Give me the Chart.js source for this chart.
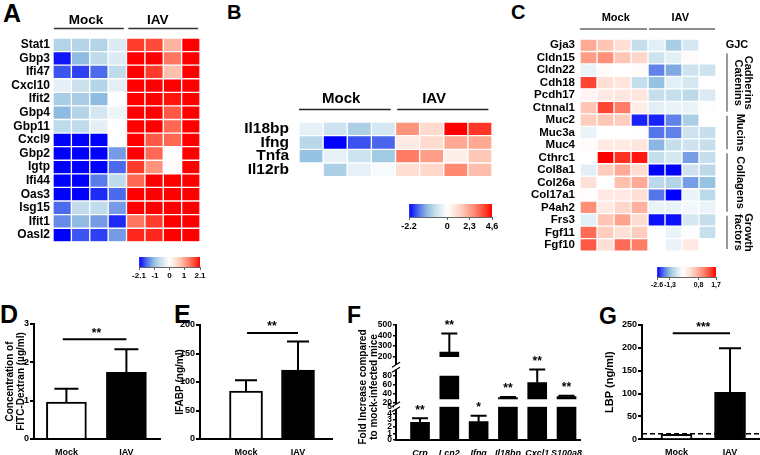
<!DOCTYPE html>
<html>
<head>
<meta charset="utf-8">
<script src="https://cdn.jsdelivr.net/npm/chart.js@4.4.0/dist/chart.umd.min.js"></script>
<style>
  body { margin: 0; background: #fff; width: 760px; height: 455px; position: relative; overflow: hidden;
         font-family: Arial, "Liberation Sans", sans-serif; }
  canvas { position: absolute; }
  .tag { position: absolute; font-weight: bold; line-height: 1; color: #000; }
</style>
</head>
<body>
<div class="tag" style="left:3px;top:1px;font-size:25px">A</div>
<div class="tag" style="left:227px;top:2px;font-size:20px">B</div>
<div class="tag" style="left:511px;top:2px;font-size:20px">C</div>
<div class="tag" style="left:0px;top:302px;font-size:25px">D</div>
<div class="tag" style="left:174px;top:302px;font-size:25px">E</div>
<div class="tag" style="left:347px;top:304px;font-size:23px">F</div>
<div class="tag" style="left:599px;top:305px;font-size:23px">G</div>

<canvas id="heatA" width="205" height="252" style="left:0;top:0"></canvas>
<canvas id="barA" width="88" height="32" style="left:127px;top:252px"></canvas>
<canvas id="heatB" width="306" height="136" style="left:190px;top:60px"></canvas>
<canvas id="barB" width="110" height="36" style="left:397px;top:199px"></canvas>
<canvas id="heatC" width="240" height="263" style="left:520px;top:0"></canvas>
<canvas id="barC" width="86" height="30" style="left:645px;top:262px"></canvas>
<canvas id="chartD" width="165" height="155" style="left:0;top:300px"></canvas>
<canvas id="chartE" width="170" height="155" style="left:165px;top:300px"></canvas>
<canvas id="chartF" width="250" height="155" style="left:335px;top:300px"></canvas>
<canvas id="chartG" width="170" height="155" style="left:590px;top:300px"></canvas>

<script>
const FONT = 'Arial, "Liberation Sans", sans-serif';
Chart.defaults.font.family = FONT;
Chart.defaults.color = '#000';

// ---------- data ----------
const groups = ['Mock', 'IAV'];

const genesA = ['Stat1', 'Gbp3', 'Ifi47', 'Cxcl10', 'Ifit2', 'Gbp4', 'Gbp11', 'Cxcl9',
                'Gbp2', 'Igtp', 'Ifi44', 'Oas3', 'Isg15', 'Ifit1', 'Oasl2'];
// 4 mock + 4 IAV mice per row
const heatA = [
  [-0.8, -0.8, -0.8, -0.4,  1.8, 1.7, 0.9, 2.1],
  [-2.0, -1.1, -0.7, -0.4,  2.1, 2.1, 1.4, 2.1],
  [-1.7, -1.8, -1.6, -0.7,  2.1, 1.8, 0.8, 2.1],
  [-0.3, -0.6, -0.8, -0.3,  2.1, 2.1, 2.1, 2.1],
  [-0.9, -0.9, -1.1,  0,    2.1, 2.1, 2.0, 2.1],
  [-1.1, -0.8, -0.5, -0.2,  2.1, 2.1, 1.6, 2.1],
  [-0.7, -0.7, -0.3,  0,    2.1, 2.1, 1.5, 2.1],
  [-2.1, -2.1, -2.1,  0,    2.1, 1.6, 1.5, 2.1],
  [-2.1, -2.1, -2.1, -1.3,  2.1, 1.5, 0,   2.1],
  [-2.1, -2.1, -2.1, -1.6,  1.8, 1.2, 0.05, 2.1],
  [-2.1, -2.1, -1.5, -0.7,  1.5, 2.1, 2.1, 2.1],
  [-2.1, -2.1, -1.9, -1.6,  2.1, 2.1, 2.1, 2.1],
  [-1.6, -0.7, -0.7, -1.3,  2.1, 2.1, 2.1, 2.1],
  [-1.4, -1.1, -1.3, -1.9,  1.4, 1.8, 2.1, 2.1],
  [-2.1, -1.7, -1.8, -1.3,  1.9, 1.9, 2.1, 2.1]
];
const rangeA = [-2.1, 2.1];
const cbTicksA = [-2.1, -1, 0, 1, 2.1];
const cbLabelsA = ['-2.1', '-1', '0', '1', '2.1'];

const genesB = ['Il18bp', 'Ifng', 'Tnfa', 'Il12rb'];
const heatB = [
  [-0.3, -0.6, -0.9, -0.5,  2.6, 1.1, 4.6, 4.0],
  [-0.8, -2.2, -1.8, -1.7,  0.6, 1.1, 2.2, 2.2],
  [-1.1, -0.3, -0.6, -1.0,  3.0, 2.4, 0.5, 1.6],
  [ 0,   -0.9, -0.3, -0.1,  1.0, 1.2, 2.8, 1.8]
];
const rangeB = [-2.2, 4.6];
const cbTicksB = [-2.2, 0, 2.3, 4.6];
const cbLabelsB = ['-2.2', '0', '2,3', '4,6'];

const genesC = ['Gja3', 'Cldn15', 'Cldn22', 'Cdh18', 'Pcdh17', 'Ctnnal1', 'Muc2', 'Muc3a', 'Muc4',
                'Cthrc1', 'Col8a1', 'Col26a', 'Col17a1', 'P4ah2', 'Frs3', 'Fgf11', 'Fgf10'];
const heatC = [
  [ 0.8,  0.6,  0.35, -0.8,  -0.4, -1.1, -0.6,  0],
  [ 0.9,  1.0,  0.6,  0.45,  -0.7, -0.4,  0.04, 0],
  [-0.3,  0.05, 0,    0.04,  -1.8, -1.5, -0.7, -0.7],
  [ 1.4,  0.35, 0.3, -0.8,   -1.3, -0.4, -0.6,  0],
  [ 0.12, 0.25, 0.28, 0.3,   -0.8, -0.8, -0.9, -0.5],
  [ 0.6,  1.4,  1.1,  0.2,   -0.4, -0.3, -0.3, -0.05],
  [ 0.55, 0.6,  0.55, -2.4,  -2.4, -1.8, -1.1,  0],
  [-0.3,  0,    0,    0.02,  -1.9, -1.8, -0.7, -0.8],
  [ 0.04, 0.25, 0.25, 0.3,   -1.4, -0.8, -0.7, -0.8],
  [ 0,    1.7,  1.5,  1.6,   -0.8, -0.6, -1.6, -0.8],
  [-0.4,  0.55, 0.8,  0.4,   -2.6, -2.6, -0.7, -0.9],
  [ 0.35, 0,    0.65, 0.8,   -0.9, -1.0, -1.6, -1.3],
  [ 0.03, 0.25, 0.25, 0.35,  -1.9, -2.6, -0.3, -0.9],
  [ 1.0,  0.25, 0.45, 0.75,  -0.3, -0.3, -0.2, -0.3],
  [-0.4,  0.6,  0.85, 0.4,   -2.5, -2.5, -0.6, -0.8],
  [ 1.2,  0.55, 0.35, 0.55,  -0.05, -0.3, -0.05, -0.8],
  [ 1.3,  0.35, 1.2,  1.1,    0,   -0.3,  0.25,  0]
];
const rangeC = [-2.6, 1.7];
const cbTicksC = [-2.6, -1.3, 0.8, 1.7];
const cbLabelsC = ['-2.6', '-1,3', '0,8', '1,7'];
const sectionsC = [
  { text: ['GJC'], first: 0, last: 0, vertical: false },
  { text: ['Cadherins', 'Catenins'], first: 1, last: 5, vertical: true },
  { text: ['Mucins'], first: 6, last: 8, vertical: true },
  { text: ['Collagens'], first: 9, last: 13, vertical: true },
  { text: ['Growth', 'factors'], first: 14, last: 16, vertical: true }
];

// D: FITC-Dextran, E: IFABP, G: LBP (mean, SEM)
const dMean = [0.96, 1.74], dSem = [0.35, 0.6], dSig = ['**', 2.6];
const eMean = [84, 121],    eSem = [19, 50],    eSig = ['**', 186];
const gMean = [11, 103],    gSem = [0, 96],     gSig = ['***', 232];
const gLimit = 12;

// F: fold increase vs mock
const fGenes = ['Crp', 'Lcn2', 'Ifng', 'Il18bp', 'Cxcl1', 'S100a8'];
const fMean  = [2.65, 245, 2.75, 31, 65, 33];
const fSem   = [0.6, 175, 0.9, 1.2, 30, 2];
const fStars = ['**', '**', '*', '**', '**', '**'];
const fLow = [0, 5], fMid = [10, 100], fTop = [100, 500];
const fMidFloor = 28, fMidCeil = 80, fTopFloor = 200;

// ---------- colour scale ----------
const blueStops = [[0, [255, 255, 255]], [0.3, [200, 224, 237]], [0.5, [150, 195, 225]],
                   [0.75, [80, 112, 235]], [1, [0, 0, 255]]];
const redStops = [[0, [255, 255, 255]], [0.3, [255, 210, 195]], [0.6, [255, 140, 115]],
                  [0.85, [255, 62, 45]], [1, [255, 0, 0]]];

function ramp(stops, s) {
  s = Math.max(0, Math.min(1, s));
  for (let i = 1; i < stops.length; i++) {
    if (s <= stops[i][0]) {
      const [s0, c0] = stops[i - 1], [s1, c1] = stops[i];
      const f = (s - s0) / (s1 - s0);
      return 'rgb(' + c0.map((v, k) => Math.round(v + (c1[k] - v) * f)).join(',') + ')';
    }
  }
  return 'rgb(' + stops[stops.length - 1][1].join(',') + ')';
}

function heatColor(v, range) {
  return v < 0 ? ramp(blueStops, v / range[0]) : ramp(redStops, v / range[1]);
}

// ---------- heatmaps ----------
function headerPlugin(h) {
  return {
    id: 'header',
    afterDraw(chart) {
      const x = chart.scales.x, c = chart.ctx;
      c.save();
      c.font = 'bold ' + h.size + 'px ' + FONT;
      c.fillStyle = '#000';
      c.textAlign = 'center';
      c.textBaseline = 'middle';
      c.strokeStyle = h.lineColor;
      c.lineWidth = 1.5;
      groups.forEach((g, i) => {
        c.fillText(g, x.getPixelForValue(h.textAt[i]), h.textY);
        c.beginPath();
        c.moveTo(x.getPixelForValue(h.lines[i][0]), h.lineY);
        c.lineTo(x.getPixelForValue(h.lines[i][1]), h.lineY);
        c.stroke();
      });
      c.restore();
    }
  };
}

function heatChart(id, genes, rows, range, cfg, extra) {
  const cols = rows[0].length;
  const datasets = [];
  for (let j = 0; j < cols; j++) {
    datasets.push({
      data: genes.map(() => [j, j + 1]),
      backgroundColor: rows.map(r => heatColor(r[j], range)),
      borderColor: '#fff',
      borderWidth: 1,
      borderSkipped: false,
      barPercentage: 1,
      categoryPercentage: 1,
      grouped: false
    });
  }
  return new Chart(document.getElementById(id), {
    type: 'bar',
    data: { labels: genes, datasets },
    options: {
      indexAxis: 'y',
      responsive: false,
      animation: false,
      layout: { padding: cfg.padding },
      plugins: { legend: { display: false }, tooltip: { enabled: false } },
      scales: {
        x: { display: false, min: 0, max: cols },
        y: {
          grid: { display: false, drawTicks: false },
          border: { display: false },
          ticks: { color: '#000', autoSkip: false, padding: cfg.labelPad,
                   font: { weight: 'bold', size: cfg.labelSize } },
          afterFit: s => { s.width = cfg.axisW; }
        }
      }
    },
    plugins: [headerPlugin(cfg.header)].concat(extra || [])
  });
}

// position of a value along the colour bar (0..1), zero sits at `zero`
function barPos(v, range, zero) {
  return v < 0 ? zero * (1 - v / range[0]) : zero + (1 - zero) * v / range[1];
}

function colorBar(id, range, zero, ticks, labels, fontSize, pad) {
  return new Chart(document.getElementById(id), {
    type: 'bar',
    data: {
      labels: [''],
      datasets: [{
        data: [[0, 1]],
        barPercentage: 1,
        categoryPercentage: 1,
        borderWidth: 0,
        backgroundColor(ctx) {
          const area = ctx.chart.chartArea;
          if (!area) return '#fff';
          const g = ctx.chart.ctx.createLinearGradient(area.left, 0, area.right, 0);
          for (let k = 0; k <= 40; k++) {
            const t = k / 40;
            const v = t < zero ? range[0] * (1 - t / zero) : range[1] * (t - zero) / (1 - zero);
            g.addColorStop(t, heatColor(v, range));
          }
          return g;
        }
      }]
    },
    options: {
      indexAxis: 'y',
      responsive: false,
      animation: false,
      layout: { padding: pad },
      plugins: { legend: { display: false }, tooltip: { enabled: false } },
      scales: {
        y: { display: false },
        x: {
          min: 0, max: 1,
          afterBuildTicks: s => { s.ticks = ticks.map(v => ({ value: barPos(v, range, zero) })); },
          ticks: { callback: (v, i) => labels[i], color: '#000', padding: 1,
                   font: { weight: 'bold', size: fontSize }, maxRotation: 0, autoSkip: false },
          grid: { drawOnChartArea: false, color: '#666', tickLength: 3 },
          border: { color: '#666', width: 1 },
          afterFit: s => { s.height = pad.axisH; }
        }
      }
    }
  });
}

heatChart('heatA', genesA, heatA, rangeA, {
  padding: { top: 38, right: 5, bottom: 4 }, axisW: 53, labelSize: 12, labelPad: 3,
  header: { size: 13.5, textY: 20, lineY: 28.5, lineColor: '#333',
            textAt: [1.8, 5.7], lines: [[0.05, 3.85], [4.1, 7.9]] }
});
colorBar('barA', rangeA, 0.5, cbTicksA, cbLabelsA, 8, { left: 12, right: 15, top: 5, axisH: 17 });

heatChart('heatB', genesB, heatB, rangeB, {
  padding: { top: 62, right: 4, bottom: 3 }, axisW: 109, labelSize: 15.5, labelPad: 10,
  header: { size: 15, textY: 39, lineY: 49.5, lineColor: '#222',
            textAt: [1.75, 5.6], lines: [[0, 3.8], [4.07, 7.85]] }
});
colorBar('barB', rangeB, 0.46, cbTicksB, cbLabelsB, 9, { left: 12, right: 15, top: 5, axisH: 18 });

const sidePlugin = {
  id: 'sections',
  afterDraw(chart) {
    const y = chart.scales.y, c = chart.ctx, a = chart.chartArea;
    const half = Math.abs(y.getPixelForValue(1) - y.getPixelForValue(0)) / 2;
    const lx = a.right + 11, lh = 10.5;
    c.save();
    c.font = 'bold 11px ' + FONT;
    c.fillStyle = '#000';
    c.textAlign = 'center';
    c.textBaseline = 'middle';
    sectionsC.forEach(s => {
      const top = y.getPixelForValue(s.first) - half;
      const bot = y.getPixelForValue(s.last) + half;
      if (!s.vertical) {
        c.fillText(s.text[0], lx + 10, (top + bot) / 2);
        return;
      }
      c.strokeStyle = '#777';
      c.lineWidth = 1.5;
      c.beginPath();
      c.moveTo(lx, top + 2);
      c.lineTo(lx, bot - 2);
      c.stroke();
      c.save();
      c.translate(lx + (s.text.length > 1 ? 16 : 13), (top + bot) / 2);
      c.rotate(Math.PI / 2);
      s.text.forEach((t, k) => c.fillText(t, 0, (k - (s.text.length - 1) / 2) * lh));
      c.restore();
    });
    c.restore();
  }
};

heatChart('heatC', genesC, heatC, rangeC, {
  padding: { top: 39, right: 44, bottom: 2 }, axisW: 60, labelSize: 11.5, labelPad: 5,
  header: { size: 11, textY: 18, lineY: 29, lineColor: '#666',
            textAt: [2.1, 5.9], lines: [[0, 3.94], [4.06, 7.94]] }
}, [sidePlugin]);
colorBar('barC', rangeC, 0.44, cbTicksC, cbLabelsC, 7, { left: 12, right: 15, top: 5, axisH: 15 });

// ---------- bar charts ----------
function whisker(c, px, y0, y1, cap) {
  c.beginPath();
  c.moveTo(px, y0);
  c.lineTo(px, y1);
  c.moveTo(px - cap, y1);
  c.lineTo(px + cap, y1);
  c.stroke();
}

function groupChart(id, mean, sem, sig, cfg) {
  const plugin = {
    id: 'errors',
    afterDatasetsDraw(chart) {
      const x = chart.scales.x, y = chart.scales.y, c = chart.ctx;
      c.save();
      c.strokeStyle = '#000';
      c.lineWidth = 2;
      mean.forEach((m, i) => {
        if (sem[i] > 0) whisker(c, x.getPixelForValue(i), y.getPixelForValue(m), y.getPixelForValue(m + sem[i]), cfg.cap);
      });
      // significance bar
      const sy = y.getPixelForValue(sig[1]);
      c.beginPath();
      c.moveTo(x.getPixelForValue(cfg.sigFrom), sy);
      c.lineTo(x.getPixelForValue(1), sy);
      c.stroke();
      c.font = 'bold 12px ' + FONT;
      c.fillStyle = '#000';
      c.textAlign = 'center';
      c.textBaseline = 'middle';
      c.fillText(sig[0], x.getPixelForValue(0.5), sy - 6);
      if (cfg.limit !== undefined) {
        const ly = y.getPixelForValue(cfg.limit);
        c.lineWidth = 1.5;
        c.setLineDash([5, 3]);
        c.beginPath();
        c.moveTo(chart.chartArea.left, ly);
        c.lineTo(chart.chartArea.right, ly);
        c.stroke();
      }
      c.restore();
    }
  };
  return new Chart(document.getElementById(id), {
    type: 'bar',
    data: {
      datasets: [{
        data: mean.map((m, i) => ({ x: i, y: m })),
        backgroundColor: ['#fff', '#000'],
        borderColor: '#000',
        borderWidth: 2,
        barThickness: cfg.barW
      }]
    },
    options: {
      responsive: false,
      animation: false,
      layout: { padding: { top: cfg.padTop, right: cfg.padRight } },
      plugins: { legend: { display: false }, tooltip: { enabled: false } },
      scales: {
        x: {
          type: 'linear', offset: false, min: cfg.xMin, max: cfg.xMax,
          grid: { display: false },
          border: { color: '#000', width: 2 },
          afterBuildTicks: s => { s.ticks = groups.map((g, i) => ({ value: i })); },
          ticks: { callback: v => groups[v], color: '#000', padding: 0, maxRotation: 0,
                   font: { weight: 'bold', size: 9 } },
          afterFit: s => { s.height = cfg.xH; }
        },
        y: {
          min: 0, max: cfg.yMax,
          ticks: { stepSize: cfg.step, color: '#000', padding: 1, font: { weight: 'bold', size: 9 } },
          grid: { drawOnChartArea: false, color: '#000', lineWidth: 2, tickLength: 4 },
          border: { color: '#000', width: 2 },
          title: { display: true, text: cfg.title, color: '#000', padding: { top: cfg.titlePad },
                   font: { weight: 'bold', size: cfg.titleSize, lineHeight: 1.1 } },
          afterFit: s => { s.width = cfg.axisW; }
        }
      }
    },
    plugins: [plugin]
  });
}

groupChart('chartD', dMean, dSem, dSig, {
  xMin: -0.54, xMax: 1.56, barW: 40, cap: 12, sigFrom: -0.06, padTop: 24, padRight: 5, xH: 16,
  yMax: 3, step: 1, axisW: 34, title: ['Concentration of', 'FITC-Dextran (µg/ml)'], titlePad: 5, titleSize: 10
});
groupChart('chartE', eMean, eSem, eSig, {
  xMin: -0.885, xMax: 1.654, barW: 33, cap: 11, sigFrom: 0.02, padTop: 25, padRight: 3, xH: 16,
  yMax: 200, step: 50, axisW: 35, title: 'IFABP (ng/ml)', titlePad: 10, titleSize: 10
});
groupChart('chartG', gMean, gSem, gSig, {
  xMin: -0.645, xMax: 1.56, barW: 31, cap: 11, sigFrom: -0.07, padTop: 25, padRight: 0, xH: 15.7,
  yMax: 250, step: 50, axisW: 52, title: 'LBP (ng/ml)', titlePad: 14, titleSize: 11, limit: gLimit
});

// ---------- F: broken axis ----------
function fAxisOf(v) { return v <= fLow[1] ? 'yLow' : v <= fMid[1] ? 'yMid' : 'yTop'; }

const fPlugin = {
  id: 'fExtras',
  afterDatasetsDraw(chart) {
    const x = chart.scales.x, c = chart.ctx;
    c.save();
    c.strokeStyle = '#000';
    c.fillStyle = '#000';
    c.lineWidth = 2;
    c.font = 'bold 12px ' + FONT;
    c.textAlign = 'center';
    c.textBaseline = 'middle';
    fMean.forEach((m, i) => {
      const ax = chart.scales[fAxisOf(m)];
      const px = x.getPixelForValue(i);
      const yTop = ax.getPixelForValue(m + fSem[i]);
      whisker(c, px, ax.getPixelForValue(m), yTop, 8);
      c.fillText(fStars[i], px, yTop - 8);
    });
    // axis breaks
    const lx = chart.chartArea.left;
    c.lineWidth = 1.2;
    [chart.scales.yLow.top, chart.scales.yMid.top].forEach(by => {
      c.fillStyle = '#fff';
      c.fillRect(lx - 2, by - 2.5, 4, 5);
      [-2.5, 2.5].forEach(o => {
        c.beginPath();
        c.moveTo(lx - 4, by + o + 2.5);
        c.lineTo(lx + 4, by + o - 2.5);
        c.stroke();
      });
    });
    c.restore();
  }
};

const fBarStyle = { backgroundColor: '#000', borderWidth: 0, barThickness: 19, grouped: false };
const fTickFont = { weight: 'bold', size: 8.5 };
function fAxis(range, weight, ticks, extra) {
  return Object.assign({
    type: 'linear', position: 'left', stack: 'f', stackWeight: weight, offset: false,
    min: range[0], max: range[1],
    afterBuildTicks: s => { s.ticks = ticks.map(v => ({ value: v })); },
    ticks: { color: '#000', padding: 1, font: fTickFont, autoSkip: false },
    grid: { drawOnChartArea: false, color: '#000', lineWidth: 1.5, tickLength: 3 },
    border: { color: '#000', width: 2 },
    afterFit: s => { s.width = 61; }
  }, extra || {});
}

new Chart(document.getElementById('chartF'), {
  type: 'bar',
  data: {
    datasets: [
      Object.assign({ yAxisID: 'yLow',
        data: fMean.map((m, i) => ({ x: i, y: Math.min(m, fLow[1]) })) }, fBarStyle),
      Object.assign({ yAxisID: 'yMid',
        data: fMean.map((m, i) => ({ x: i, y: [fMidFloor, Math.min(m, fMidCeil)] })).filter(p => fMean[p.x] > fMidFloor) }, fBarStyle),
      Object.assign({ yAxisID: 'yTop',
        data: fMean.map((m, i) => ({ x: i, y: [fTopFloor, m] })).filter(p => fMean[p.x] > fTopFloor) }, fBarStyle)
    ]
  },
  options: {
    responsive: false,
    animation: false,
    layout: { padding: { top: 25, right: 5 } },
    plugins: { legend: { display: false }, tooltip: { enabled: false } },
    scales: {
      x: {
        type: 'linear', offset: false, min: -0.82, max: 5.46,
        grid: { display: false },
        border: { color: '#000', width: 2 },
        afterBuildTicks: s => { s.ticks = fGenes.map((g, i) => ({ value: i })); },
        ticks: { callback: v => fGenes[v], color: '#000', padding: 0, maxRotation: 0, autoSkip: false,
                 font: { weight: 'bold', style: 'italic', size: 9 } },
        afterFit: s => { s.height = 15; }
      },
      yLow: fAxis(fLow, 33.3, [0, 1, 2, 3, 4, 5]),
      yMid: fAxis(fMid, 39.4, [20, 40, 60, 80], {
        title: { display: true, text: ['Fold Increase compared', 'to mock-infected mice'], color: '#000',
                 padding: { top: 23 }, font: { weight: 'bold', size: 10, lineHeight: 1.1 } }
      }),
      yTop: fAxis(fTop, 42.3, [200, 300, 400, 500])
    }
  },
  plugins: [fPlugin]
});
</script>
</body>
</html>
